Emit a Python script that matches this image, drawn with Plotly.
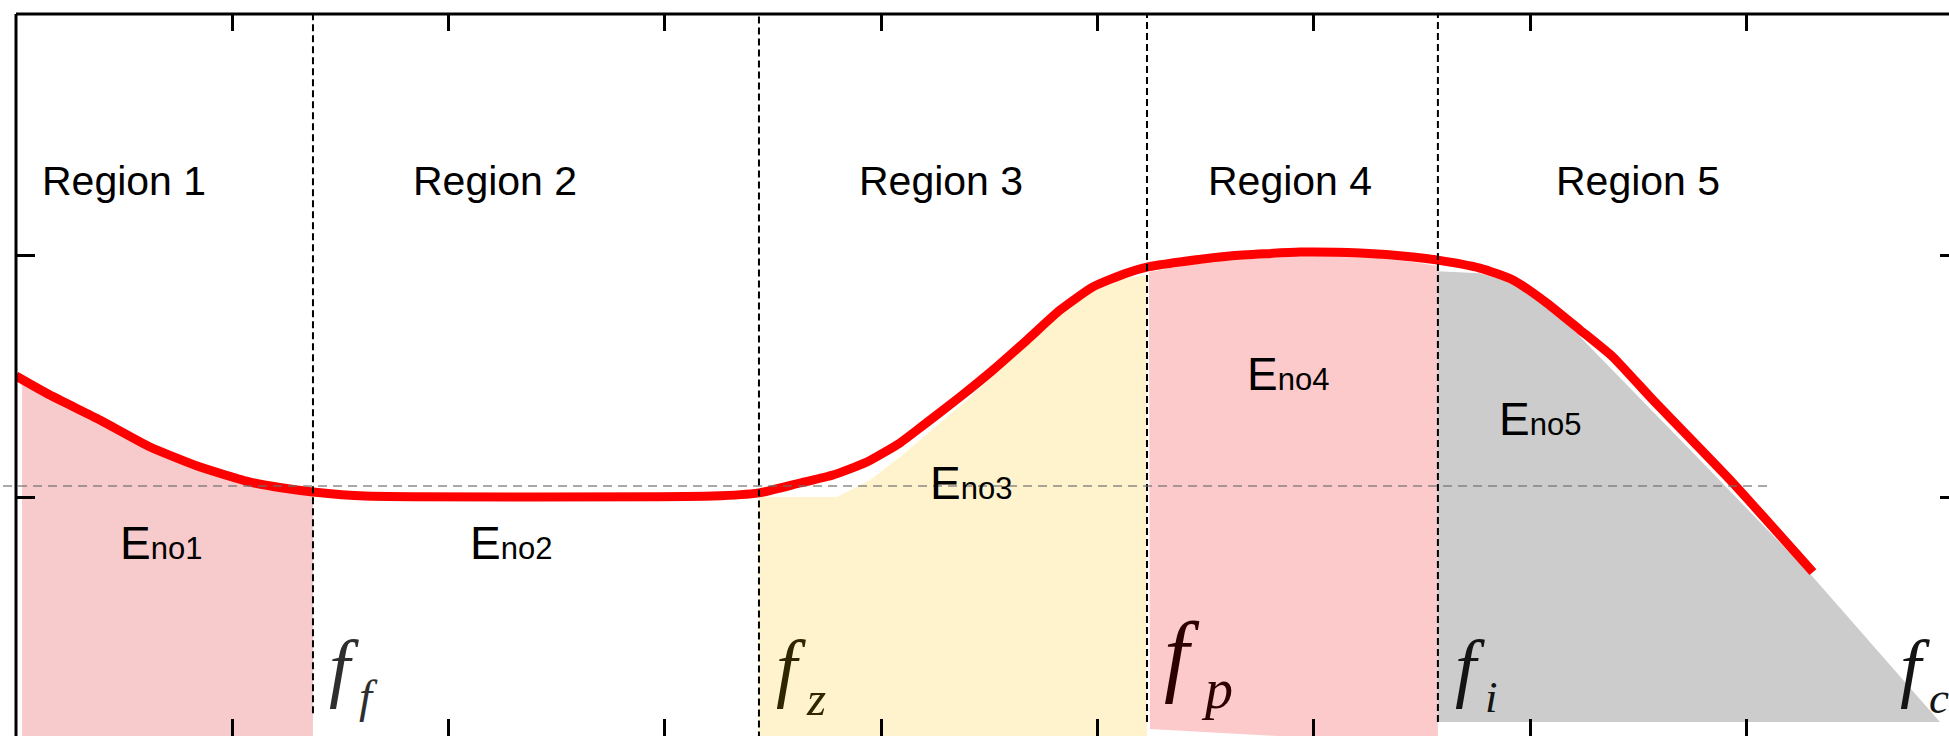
import plotly.graph_objects as go

# ---------------- data (axis units: x tick spacing = 1, y tick spacing = 1) ----------------
curve_x = [0.0, 0.157, 0.388, 0.620, 0.851, 1.082, 1.234, 1.373,
           1.614, 3.222, 3.435,
           3.625, 3.777, 3.934, 4.087, 4.179, 4.364, 4.517, 4.674, 4.827, 4.979, 5.136, 5.229,
           5.381, 5.612, 5.936, 6.214, 6.459, 6.574,
           6.768, 6.921, 7.078, 7.231, 7.383, 7.568, 7.938, 8.308]
curve_y = [1.501, 1.422, 1.319, 1.207, 1.124, 1.062, 1.037, 1.021,
           1.004, 1.004, 1.017,
           1.058, 1.091, 1.145, 1.224, 1.286, 1.414, 1.526, 1.650, 1.774, 1.870, 1.928, 1.952,
           1.973, 1.998, 2.014, 2.010, 1.994, 1.981,
           1.948, 1.899, 1.803, 1.692, 1.580, 1.402, 1.058, 0.689]

# shaded areas (outline of each energy region)
e1_x = [0.028, 0.157, 0.388, 0.620, 0.851, 1.082, 1.234, 1.373, 1.373, 0.028]
e1_y = [1.498, 1.422, 1.319, 1.207, 1.124, 1.062, 1.037, 1.021, 0.0, 0.0]

e3_x = [3.435, 3.796, 3.948, 4.087, 4.397, 4.674, 4.827, 4.979, 5.136, 5.229, 5.229, 3.435]
e3_y = [1.000, 1.000, 1.070, 1.166, 1.402, 1.633, 1.758, 1.853, 1.907, 1.919, 0.0, 0.0]

e4_x = [5.238, 5.381, 5.612, 5.936, 6.214, 6.459, 6.574, 6.574, 5.844, 5.243]
e4_y = [1.932, 1.954, 1.986, 2.002, 1.998, 1.973, 1.957, -0.01, 0.010, 0.039]

e5_x = [6.574, 6.768, 6.921, 7.124, 7.786, 8.308, 8.895, 6.574]
e5_y = [1.935, 1.927, 1.886, 1.762, 1.153, 0.669, 0.068, 0.068]

boundary_x = [1.373, 3.435, 5.229, 6.574]          # f_f, f_z, f_p, f_i
boundary_bottom = [0.105, 0.0, 0.068, 0.068]
threshold_y = 1.0456

region_labels = ["Region 1", "Region 2", "Region 3", "Region 4", "Region 5"]
region_x = [0.499, 2.214, 4.276, 5.890, 7.499]
region_y = 2.31

eno_labels = ["no1", "no2", "no3", "no4", "no5"]
eno_x = [0.670, 2.288, 4.414, 5.881, 7.046]
eno_y = [0.809, 0.809, 1.058, 1.510, 1.325]

f_subs = ["f", "z", "p", "i", "c"]
f_x = [1.438, 3.504, 5.298, 6.644, 8.701]
f_y = [0.298, 0.298, 0.346, 0.298, 0.298]
f_sizes = [76, 76, 90, 76, 76]
sub_x = [1.632, 3.699, 5.553, 6.824, 8.892]
sub_y = [0.176, 0.166, 0.205, 0.172, 0.168]
sub_sizes = [47, 49, 56, 45, 45]
f_colors = ["#2e2e2e", "#2e2600", "#2d0000", "#141414", "#141414"]

x_ticks = [1, 2, 3, 4, 5, 6, 7, 8]
y_ticks = [1, 2]
x_range = [0, 8.937]
y_range = [0.0104, 3.0]

# ---------------- figure ----------------
fig = go.Figure()

fills = [(e1_x, e1_y, "rgb(247,203,204)"),
         (e3_x, e3_y, "rgb(255,243,205)"),
         (e4_x, e4_y, "rgb(252,202,202)"),
         (e5_x, e5_y, "rgb(204,204,204)")]
for fx, fy, col in fills:
    fig.add_trace(go.Scatter(x=fx, y=fy, mode="lines", fill="toself", fillcolor=col,
                             line=dict(width=0), hoverinfo="skip", showlegend=False))

fig.add_trace(go.Scatter(x=curve_x, y=curve_y, mode="lines",
                         line=dict(color="#ff0000", width=9, shape="spline", smoothing=0.5),
                         showlegend=False))

# invisible trace on secondary y axis so right-hand ticks render
fig.add_trace(go.Scatter(x=[x_range[0]], y=[y_range[0]], yaxis="y2", mode="markers",
                         marker=dict(opacity=0), showlegend=False, hoverinfo="skip"))

shapes = []
for bx, bb in zip(boundary_x, boundary_bottom):
    shapes.append(dict(type="line", xref="x", yref="y", x0=bx, x1=bx, y0=bb, y1=3.0,
                       line=dict(color="black", width=2, dash="7px,4px"), layer="above"))
shapes.append(dict(type="line", xref="paper", yref="y", x0=-0.0067, x1=0.9064,
                   y0=threshold_y, y1=threshold_y,
                   line=dict(color="rgba(110,110,110,0.6)", width=2, dash="9px,6px"), layer="above"))
# frame: top and left spines
shapes.append(dict(type="line", xref="paper", yref="paper", x0=0, x1=1, y0=1, y1=1,
                   line=dict(color="black", width=3), layer="above"))
shapes.append(dict(type="line", xref="paper", yref="paper", x0=0, x1=0, y0=0, y1=1,
                   line=dict(color="black", width=3), layer="above"))

annotations = []
for lab, rx in zip(region_labels, region_x):
    annotations.append(dict(x=rx, y=region_y, xref="x", yref="y", text=lab, showarrow=False,
                            xanchor="center", yanchor="middle",
                            font=dict(family="Liberation Sans, Arial", size=41, color="black")))
for lab, ex, ey in zip(eno_labels, eno_x, eno_y):
    annotations.append(dict(x=ex, y=ey, xref="x", yref="y",
                            text="E<span style='font-size:31px'>" + lab + "</span>",
                            showarrow=False, xanchor="center", yanchor="middle",
                            font=dict(family="Liberation Sans, Arial", size=46, color="black")))
for s, fx, fy, fs, sx, sy, ss, fc in zip(f_subs, f_x, f_y, f_sizes, sub_x, sub_y, sub_sizes, f_colors):
    annotations.append(dict(x=fx, y=fy, xref="x", yref="y", text="<i>f</i>",
                            showarrow=False, xanchor="left", yanchor="middle",
                            font=dict(family="Liberation Serif, Times New Roman", size=fs, color=fc)))
    annotations.append(dict(x=sx, y=sy, xref="x", yref="y", text="<i>" + s + "</i>",
                            showarrow=False, xanchor="center", yanchor="middle",
                            font=dict(family="Liberation Serif, Times New Roman", size=ss, color=fc)))

fig.update_layout(
    width=1949, height=736,
    margin=dict(l=16, r=0, t=14, b=0, pad=0),
    paper_bgcolor="white", plot_bgcolor="white",
    shapes=shapes, annotations=annotations,
    xaxis=dict(range=x_range, tickvals=x_ticks, ticks="inside", ticklen=17, tickwidth=3,
               tickcolor="black", mirror="ticks", showline=False, showgrid=False,
               zeroline=False, showticklabels=False, fixedrange=True),
    yaxis=dict(range=y_range, tickvals=y_ticks, ticks="inside", ticklen=19, tickwidth=3,
               tickcolor="black", showline=False, showgrid=False, zeroline=False,
               showticklabels=False, fixedrange=True),
    yaxis2=dict(range=y_range, tickvals=y_ticks, ticks="inside", ticklen=9, tickwidth=3,
                tickcolor="black", overlaying="y", side="right", showline=False,
                showgrid=False, zeroline=False, showticklabels=False, fixedrange=True),
    showlegend=False,
)

fig.write_html("out.html", config={"displayModeBar": False},
               post_script="document.body.style.margin='0';document.body.style.overflow='hidden';")
